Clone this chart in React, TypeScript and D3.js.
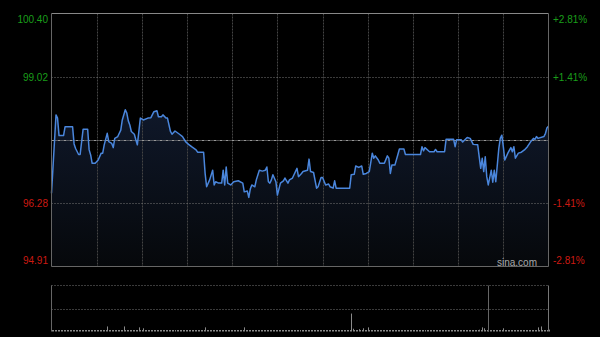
import React from "react";
import * as d3 from "d3";

// Intraday minutes (HK session, 330 minutes) and prices
const minutes = [0,3,4,5,8,9,14,15,16,18,19,21,24,25,26,27,29,31,33,34,35,37,38,40,41,42,44,46,47,49,50,51,52,53,55,56,57,59,61,64,66,68,70,71,73,74,76,77,79,80,82,85,87,89,91,93,96,97,101,102,103,105,107,108,109,111,113,114,115,116,117,119,121,124,127,128,130,131,132,133,135,136,138,140,142,143,144,145,146,147,149,150,152,154,155,157,158,160,161,163,164,166,167,170,171,172,174,176,177,179,180,182,184,185,187,188,189,198,199,201,202,204,206,207,209,211,213,214,215,217,218,221,223,224,225,226,228,230,231,234,235,245,246,247,248,251,254,255,256,261,262,267,268,269,272,273,276,278,280,283,284,285,286,287,288,289,290,292,293,294,295,297,298,299,300,301,303,305,306,307,308,310,312,314,316,318,320,321,322,323,327,328,329,330];
const prices = [96.50,98.20,98.13,97.75,97.75,97.94,97.94,97.57,97.47,97.34,97.34,97.89,97.89,97.44,97.33,97.15,97.15,97.22,97.37,97.37,97.55,97.80,97.62,97.58,97.49,97.69,97.73,97.87,98.09,98.31,98.24,98.07,97.98,97.84,97.78,97.66,97.55,98.13,98.09,98.13,98.14,98.27,98.29,98.16,98.16,98.20,98.13,98.13,97.84,97.78,97.85,97.78,97.73,97.62,97.56,97.51,97.44,97.39,97.39,96.93,96.64,96.79,97.00,96.68,96.75,96.72,96.72,97.00,96.68,97.07,96.72,96.68,96.75,96.77,96.72,96.53,96.55,96.41,96.59,96.68,96.64,96.79,97.00,96.98,97.00,97.07,96.75,96.72,96.79,96.90,96.75,96.46,96.72,96.77,96.83,96.72,96.79,96.83,96.90,97.04,96.86,96.93,96.97,97.00,97.24,96.97,96.95,96.61,96.64,96.84,96.84,96.68,96.70,96.64,96.61,96.77,96.61,96.61,96.90,96.91,97.09,97.06,97.09,96.91,96.93,96.97,97.37,97.26,97.31,97.22,97.15,97.15,97.31,97.26,96.93,97.11,97.11,97.34,97.46,97.46,97.34,97.34,97.51,97.42,97.49,97.40,97.40,97.45,97.40,97.40,97.67,97.67,97.51,97.66,97.66,97.61,97.71,97.69,97.56,97.55,97.29,97.04,97.26,96.97,97.29,96.86,96.68,97.00,96.74,97.00,96.75,97.47,97.69,97.76,97.51,97.22,97.37,97.49,97.40,97.51,97.26,97.37,97.39,97.44,97.51,97.61,97.69,97.67,97.73,97.69,97.73,97.80,97.92,97.95];

const volumes = [
  2,1,2,2,1,2,1,1,2,1, 2,1,1,2,2,1,2,3,1,1, 2,1,2,1,1,2,2,1,1,2,
  1,2,1,2,2,1,3,11,2,1, 1,2,2,1,3,2,1,2,11,2, 1,2,1,1,2,3,1,2,9,2,
  1,7,2,1,2,1,1,2,1,1, 2,1,2,1,1,2,1,2,1,1, 2,1,1,2,1,2,1,1,2,1,
  1,2,1,1,2,1,2,1,1,2, 1,2,9,2,1,1,2,1,2,1, 1,2,1,1,2,1,1,2,1,2,
  1,1,2,1,2,1,1,2,9,2, 1,2,1,1,2,1,2,1,1,2, 1,1,2,1,2,1,1,2,1,1,
  2,1,1,2,1,1,2,1,2,1, 1,2,1,1,2,1,1,2,1,2, 1,1,2,1,1,2,1,2,1,1,
  2,1,1,2,1,2,1,1,2,1, 1,2,1,1,2,1,2,3,2,39, 6,2,1,3,5,2,2,7,2,3,
  9,2,1,2,1,1,2,1,1,2, 1,2,1,1,2,1,1,2,1,2, 1,1,2,1,1,2,1,2,1,1,
  2,1,1,2,1,2,1,1,2,1, 1,2,1,1,2,1,2,1,1,2, 1,1,2,1,2,1,1,2,1,1,
  2,1,2,1,1,2,1,2,1,1, 2,2,3,2,4,3,9,7,2,3, 2,2,1,2,1,2,2,1,2,1,
  7,2,1,2,1,2,1,1,2,1, 2,1,1,2,1,2,1,2,2,1, 2,2,3,9,2,11,2,3,2,2, 4,
];

const prevClose = 97.655;
const priceTicks = [100.40, 99.02, 97.655, 96.28, 94.91];
const priceLabels = ["100.40", "99.02", "", "96.28", "94.91"];
const pctLabels = ["+2.81%", "+1.41%", "", "-1.41%", "-2.81%"];
const timeGrid = [30, 60, 90, 120, 150, 180, 210, 240, 270, 300];
const volumeMax = 100;
const markerMinute = 290;

const W = 600, H = 337;
const L = 51.5, R = 548.5;
const T = 13.5, B = 266.5;
const VT = 285.5, VB = 331.5;
const FONT = "'Liberation Sans', Arial, sans-serif";
const GREEN = "#1a9e1a";
const RED = "#cc1a12";

export default function App() {
  const x = d3.scaleLinear().domain([0, 330]).range([L, R]);
  const y = d3.scaleLinear().domain([94.91, 100.40]).range([B, T]);
  const vy = d3.scaleLinear().domain([0, volumeMax]).range([VB, VT]);

  const pts = minutes.map((m, i) => [m, prices[i]] as [number, number]);
  const line = d3.line<[number, number]>().x(d => x(d[0])).y(d => y(d[1]));
  const area = d3.area<[number, number]>().x(d => x(d[0])).y0(B).y1(d => y(d[1]));

  return (
    <svg width={W} height={H} style={{ position: "fixed", left: 0, top: 0, display: "block" }}>
      <defs>
        <linearGradient id="ag" gradientUnits="userSpaceOnUse" x1="0" y1={T} x2="0" y2={B}>
          <stop offset="0" stopColor="#16243c" />
          <stop offset="0.45" stopColor="#0e1626" />
          <stop offset="1" stopColor="#06080b" />
        </linearGradient>
      </defs>
      <rect x={0} y={0} width={W} height={H} fill="#000" />

      <path d={area(pts) || ""} fill="url(#ag)" />

      {/* vertical grid */}
      {timeGrid.map(m => (
        <line key={"v" + m} x1={Math.round(x(m)) + 0.5} x2={Math.round(x(m)) + 0.5} y1={T} y2={B}
          stroke="#444" strokeDasharray="2,1" />
      ))}
      {/* horizontal grid */}
      {priceTicks.slice(1, 4).map((p, i) => (
        <line key={"h" + i} x1={L} x2={R} y1={Math.round(y(p)) + 0.5} y2={Math.round(y(p)) + 0.5}
          stroke={p === prevClose ? "#999" : "#777"}
          strokeDasharray={p === prevClose ? "3,1,1,1" : "1,2"} />
      ))}

      <path d={line(pts) || ""} fill="none" stroke="#4a86dc" strokeWidth={1.5} strokeLinejoin="round" />

      {/* frame */}
      <line x1={L} x2={R} y1={T} y2={T} stroke="#888" />
      <line x1={L} x2={R} y1={B} y2={B} stroke="#666" />
      <line x1={L} x2={L} y1={T} y2={B} stroke="#666" />
      <line x1={R} x2={R} y1={T} y2={B} stroke="#666" />

      {/* labels */}
      {priceTicks.map((p, i) => {
        const col = p > prevClose ? GREEN : RED;
        const yy = Math.min(Math.max(y(p), 19), 260);
        return priceLabels[i] ? (
          <g key={"l" + i}>
            <text x={48} y={yy} dy="0.35em" textAnchor="end" fill={col} fontSize={10} fontFamily={FONT}>{priceLabels[i]}</text>
            <text x={553} y={yy} dy="0.35em" textAnchor="start" fill={col} fontSize={10} fontFamily={FONT}>{pctLabels[i]}</text>
          </g>
        ) : null;
      })}
      <text x={537} y={262} dy="0.35em" textAnchor="end" fill="#a8a8a8" fontSize={10} fontFamily={FONT}>sina.com</text>

      {/* volume chart */}
      <line x1={L} x2={R} y1={VT} y2={VT} stroke="#777" strokeDasharray="1,2" />
      <line x1={L} x2={R} y1={Math.round((VT + VB) / 2) + 0.5} y2={Math.round((VT + VB) / 2) + 0.5} stroke="#777" strokeDasharray="1,2" />
      {volumes.map((v, i) => {
        const top = vy(v);
        return (
          <rect key={"b" + i} x={Math.round(x(i))} y={Math.min(top, VB - 1.5)} width={1}
            height={Math.max(VB - top, 1.5)} fill="#8a8a8a" />
        );
      })}
      <line x1={L} x2={L} y1={VT} y2={VB} stroke="#666" />
      <line x1={R} x2={R} y1={VT} y2={VB} stroke="#777" />
      <line x1={Math.round(x(markerMinute)) + 0.5} x2={Math.round(x(markerMinute)) + 0.5} y1={VT} y2={VB} stroke="#666" />
    </svg>
  );
}
